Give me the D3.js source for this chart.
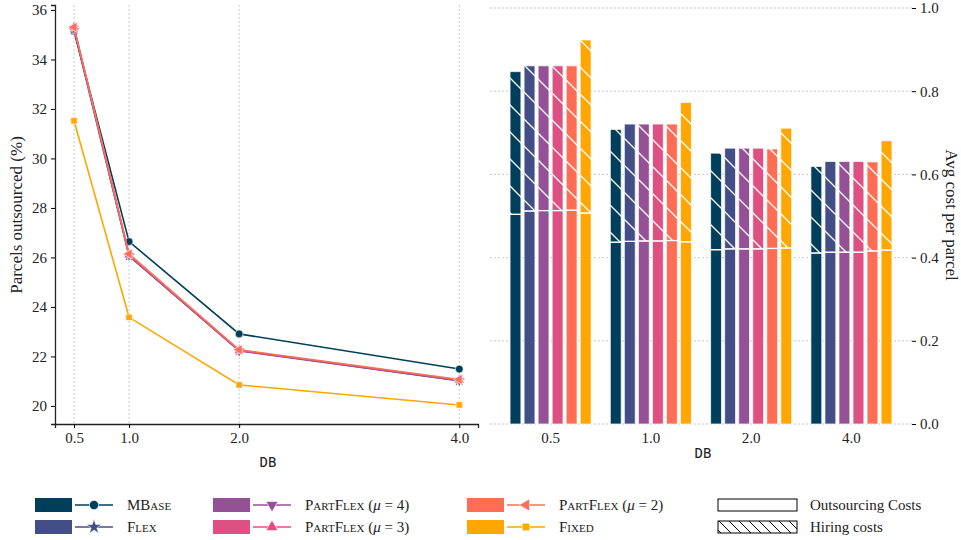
<!DOCTYPE html>
<meta charset="utf-8">
<head>
  <title>Parcels outsourced and cost per parcel</title>
  <script src="https://d3js.org/d3.v7.min.js"></script>
  <style>
    body { margin: 0; background: #fff; }
    text { font-family: "Liberation Serif", "DejaVu Serif", serif; fill: #222; }
    .tick text { font-size: 15px; }
    .mono { font-family: "DejaVu Sans Mono", "Liberation Mono", monospace; }
  </style>
</head>
<body>
<svg width="961" height="540"></svg>
<script>
// --- data ---
const dbValues = [0.5, 1.0, 2.0, 4.0];
const dbLabels = ["0.5", "1.0", "2.0", "4.0"];
const policies = ["MBase", "Flex", "PartFlex4", "PartFlex3", "PartFlex2", "Fixed"];
const colors = ["#003f5c", "#444e86", "#955196", "#dd5182", "#ff6e54", "#ffa600"];

// parcels outsourced (%)
const pctMBase = [35.15, 26.64, 22.91, 21.49];
const pctFlex = [35.2, 26.06, 22.24, 21.02];
const pctPartFlex4 = [35.25, 26.08, 22.22, 21.02];
const pctPartFlex3 = [35.3, 26.1, 22.25, 21.05];
const pctPartFlex2 = [35.3, 26.14, 22.27, 21.07];
const pctFixed = [31.52, 23.58, 20.85, 20.04];

// avg cost per parcel: total and outsourcing part (hiring = total - outsourcing)
const totalMBase = [0.847, 0.708, 0.651, 0.619];
const totalFlex = [0.861, 0.721, 0.663, 0.631];
const totalPartFlex4 = [0.861, 0.721, 0.663, 0.631];
const totalPartFlex3 = [0.861, 0.721, 0.663, 0.631];
const totalPartFlex2 = [0.861, 0.721, 0.661, 0.630];
const totalFixed = [0.923, 0.773, 0.711, 0.681];

const outMBase = [0.504, 0.437, 0.419, 0.411];
const outFlex = [0.512, 0.439, 0.421, 0.413];
const outPartFlex4 = [0.513, 0.440, 0.421, 0.413];
const outPartFlex3 = [0.513, 0.440, 0.421, 0.413];
const outPartFlex2 = [0.514, 0.441, 0.422, 0.416];
const outFixed = [0.507, 0.438, 0.423, 0.418];

const pctSeries = [pctMBase, pctFlex, pctPartFlex4, pctPartFlex3, pctPartFlex2, pctFixed];
const totalSeries = [totalMBase, totalFlex, totalPartFlex4, totalPartFlex3, totalPartFlex2, totalFixed];
const outSeries = [outMBase, outFlex, outPartFlex4, outPartFlex3, outPartFlex2, outFixed];

const symbols = [
  {type: d3.symbolCircle, rot: 0, size: 48},
  {type: d3.symbolStar, rot: 0, size: 50},
  {type: d3.symbolTriangle, rot: 180, size: 45},
  {type: d3.symbolTriangle, rot: 0, size: 45},
  {type: d3.symbolTriangle, rot: -90, size: 45},
  {type: d3.symbolSquare, rot: 0, size: 40}
];

const svg = d3.select("svg");

const defs = svg.append("defs");
// hatch for the hiring part of the bars
defs.append("pattern")
  .attr("id", "hatch")
  .attr("patternUnits", "userSpaceOnUse")
  .attr("width", 27).attr("height", 27)
  .append("path")
  .attr("d", "M-2,25 L2,29 M0,0 L27,27 M25,-2 L29,2")
  .attr("stroke", "#fff").attr("stroke-width", 1.3);
// denser black hatch for the legend
defs.append("pattern")
  .attr("id", "hatchLegend")
  .attr("patternUnits", "userSpaceOnUse")
  .attr("width", 10).attr("height", 10)
  .append("path")
  .attr("d", "M-1,9 L1,11 M0,0 L10,10 M9,-1 L11,1")
  .attr("stroke", "#000").attr("stroke-width", 1);

// ================= left chart: lines =================
const x = d3.scaleLinear().domain([0.327, 4.17]).range([55, 478]);
const y = d3.scaleLinear().domain([19.27, 36.2]).range([424, 5]);

const left = svg.append("g");

// vertical dashed grid
left.append("g")
  .selectAll("line")
  .data(dbValues)
  .join("line")
  .attr("x1", d => x(d)).attr("x2", d => x(d))
  .attr("y1", y.range()[1]).attr("y2", y.range()[0])
  .attr("stroke", "#bbb").attr("stroke-width", 0.8)
  .attr("stroke-dasharray", "2,2");

const yAxisL = left.append("g")
  .attr("transform", "translate(55,0)")
  .call(d3.axisLeft(y).tickValues(d3.range(20, 37, 2)).tickSize(4).tickPadding(4));
yAxisL.select(".domain").attr("stroke", "#222").attr("stroke-width", 1.3);

const xAxisL = left.append("g")
  .attr("transform", "translate(0,424)")
  .call(d3.axisBottom(x).tickValues(dbValues).tickFormat((d, i) => dbLabels[i]).tickSize(4).tickPadding(4));
xAxisL.select(".domain").attr("stroke", "#222").attr("stroke-width", 1.3);

left.append("text")
  .attr("transform", "translate(22,215) rotate(-90)")
  .attr("text-anchor", "middle")
  .style("font-size", "17px")
  .text("Parcels outsourced (%)");

left.append("text")
  .attr("class", "mono")
  .attr("x", 268).attr("y", 467)
  .attr("text-anchor", "middle")
  .style("font-size", "14px")
  .text("DB");

const line = d3.line().x((d, i) => x(dbValues[i])).y(d => y(d));

pctSeries.forEach((vals, s) => {
  const g = left.append("g");
  g.append("path")
    .datum(vals)
    .attr("d", line)
    .attr("fill", "none")
    .attr("stroke", colors[s])
    .attr("stroke-width", 1.6);
  g.selectAll("path.mark")
    .data(vals)
    .join("path")
    .attr("class", "mark")
    .attr("d", d3.symbol().type(symbols[s].type).size(symbols[s].size))
    .attr("transform", (d, i) => `translate(${x(dbValues[i])},${y(d)}) rotate(${symbols[s].rot})`)
    .attr("fill", colors[s])
    .attr("stroke", "#fff").attr("stroke-width", 0.6);
});

// ================= right chart: stacked bars =================
const xb = d3.scaleBand().domain(dbLabels).range([490, 912]).paddingInner(0).paddingOuter(0.104);
const xs = d3.scaleBand().domain(policies).range([0, xb.bandwidth() * 0.84]);
const yb = d3.scaleLinear().domain([0, 1]).range([424, 8]);

const right = svg.append("g");

right.append("g")
  .selectAll("line")
  .data(yb.ticks(5))
  .join("line")
  .attr("x1", 490).attr("x2", 912)
  .attr("y1", d => yb(d)).attr("y2", d => yb(d))
  .attr("stroke", "#bbb").attr("stroke-width", 0.8)
  .attr("stroke-dasharray", "2,2");

const yAxisR = right.append("g")
  .attr("transform", "translate(912,0)")
  .call(d3.axisRight(yb).ticks(5).tickFormat(d3.format(".1f")).tickSize(4).tickPadding(4));
yAxisR.select(".domain").remove();

const xAxisR = right.append("g")
  .attr("transform", "translate(0,424)")
  .call(d3.axisBottom(xb).tickSize(0).tickPadding(8));
xAxisR.select(".domain").remove();

right.append("text")
  .attr("transform", "translate(946,215) rotate(90)")
  .attr("text-anchor", "middle")
  .style("font-size", "17px")
  .text("Avg cost per parcel");

right.append("text")
  .attr("class", "mono")
  .attr("x", 703).attr("y", 458)
  .attr("text-anchor", "middle")
  .style("font-size", "14px")
  .text("DB");

const groupOffset = (xb.bandwidth() - xb.bandwidth() * 0.84) / 2;
const gap = 3.2;

policies.forEach((p, s) => {
  const g = right.append("g");
  const bx = i => xb(dbLabels[i]) + groupOffset + xs(p) + gap / 2;
  const bw = xs.bandwidth() - gap;
  // outsourcing part
  g.selectAll("rect.out")
    .data(outSeries[s])
    .join("rect")
    .attr("class", "out")
    .attr("x", (d, i) => bx(i)).attr("width", bw)
    .attr("y", d => yb(d)).attr("height", d => yb(0) - yb(d))
    .attr("fill", colors[s])
    .attr("stroke", "#fff").attr("stroke-opacity", 0.7).attr("stroke-width", 1);
  // hiring part
  g.selectAll("rect.hire")
    .data(totalSeries[s])
    .join("rect")
    .attr("class", "hire")
    .attr("x", (d, i) => bx(i)).attr("width", bw)
    .attr("y", d => yb(d)).attr("height", (d, i) => yb(outSeries[s][i]) - yb(d))
    .attr("fill", colors[s])
    .attr("stroke", "#fff").attr("stroke-opacity", 0.7).attr("stroke-width", 1);
  g.selectAll("rect.hatch")
    .data(totalSeries[s])
    .join("rect")
    .attr("class", "hatch")
    .attr("x", (d, i) => bx(i)).attr("width", bw)
    .attr("y", d => yb(d)).attr("height", (d, i) => yb(outSeries[s][i]) - yb(d))
    .attr("fill", "url(#hatch)");
  // white line where the two parts meet
  g.selectAll("line.split")
    .data(outSeries[s])
    .join("line")
    .attr("class", "split")
    .attr("x1", (d, i) => bx(i)).attr("x2", (d, i) => bx(i) + bw)
    .attr("y1", d => yb(d)).attr("y2", d => yb(d))
    .attr("stroke", "#fff").attr("stroke-width", 1.3);
});

// ================= legend =================
const legendNames = [
  [{t: "MBase", sc: true}],
  [{t: "Flex", sc: true}],
  [{t: "PartFlex", sc: true}, {t: " ("}, {t: "μ", it: true}, {t: " = 4)"}],
  [{t: "PartFlex", sc: true}, {t: " ("}, {t: "μ", it: true}, {t: " = 3)"}],
  [{t: "PartFlex", sc: true}, {t: " ("}, {t: "μ", it: true}, {t: " = 2)"}],
  [{t: "Fixed", sc: true}]
];
const legendCols = [35, 213, 467];
const legendRows = [505, 527];

const legend = svg.append("g");
policies.forEach((p, s) => {
  const lx = legendCols[Math.floor(s / 2)];
  const ly = legendRows[s % 2];
  const g = legend.append("g").attr("transform", `translate(${lx},${ly})`);
  g.append("rect")
    .attr("x", 0).attr("y", -7).attr("width", 37).attr("height", 14)
    .attr("fill", colors[s]);
  g.append("line")
    .attr("x1", 40).attr("x2", 78).attr("y1", 0).attr("y2", 0)
    .attr("stroke", colors[s]).attr("stroke-width", 1.6);
  g.append("path")
    .attr("d", d3.symbol().type(symbols[s].type).size(symbols[s].size * 1.4))
    .attr("transform", `translate(59,0) rotate(${symbols[s].rot})`)
    .attr("fill", colors[s])
    .attr("stroke", "#fff").attr("stroke-width", 0.6);
  const t = g.append("text")
    .attr("x", 92).attr("y", 5)
    .style("font-size", "15px");
  legendNames[s].forEach(part => {
    t.append("tspan")
      .style("font-variant", part.sc ? "small-caps" : null)
      .style("font-style", part.it ? "italic" : null)
      .text(part.t);
  });
});

const costLegend = legend.append("g").attr("transform", "translate(718,0)");
costLegend.append("rect")
  .attr("x", 0).attr("y", 499).attr("width", 79).attr("height", 12)
  .attr("fill", "#fff").attr("stroke", "#000").attr("stroke-width", 1);
costLegend.append("rect")
  .attr("x", 0).attr("y", 521).attr("width", 79).attr("height", 12)
  .attr("fill", "url(#hatchLegend)").attr("stroke", "#000").attr("stroke-width", 1);
costLegend.append("text").attr("x", 92).attr("y", 510).style("font-size", "15px").text("Outsourcing Costs");
costLegend.append("text").attr("x", 92).attr("y", 532).style("font-size", "15px").text("Hiring costs");
</script>
</body>
